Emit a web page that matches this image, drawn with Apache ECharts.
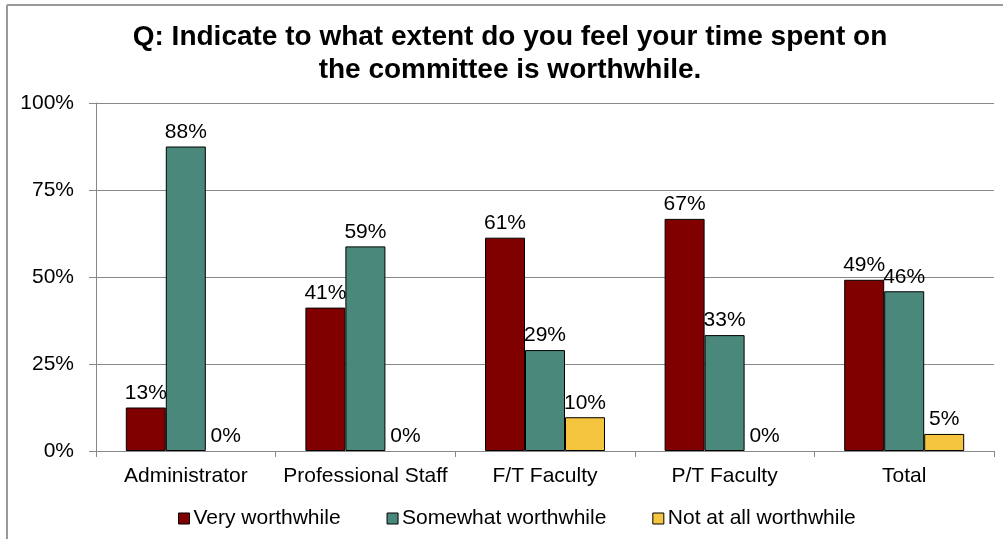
<!DOCTYPE html>
<html><head><meta charset="utf-8">
<script src="https://cdn.jsdelivr.net/npm/echarts@6/dist/echarts.min.js"></script>
<style>html,body{margin:0;padding:0;background:#fff}#c{width:1003px;height:539px}</style>
</head><body><div id="c"></div>
<script>
const categories = ['Administrator','Professional Staff','F/T Faculty','P/T Faculty','Total'];
const seriesNames = ['Very worthwhile','Somewhat worthwhile','Not at all worthwhile'];
const veryWorthwhile = [12.5, 41.2, 61.3, 66.7, 49.2];
const somewhatWorthwhile = [87.5, 58.8, 29.0, 33.3, 45.9];
const notAtAllWorthwhile = [0, 0, 9.7, 0, 4.9];
const yTicks = [0, 25, 50, 75, 100];
const colors = ['#800000', '#4a887b', '#f5c540'];
const font = 'Liberation Sans, Arial, sans-serif';

const chart = echarts.init(document.getElementById('c'), null, {renderer:'canvas'});
const mk = (name, data, i) => ({
  name, type:'bar', barWidth:40, barGap:'0%',
  data: data.map(v => v === 0 ? {value:v, itemStyle:{borderWidth:0}} : v),
  itemStyle:{color:colors[i], borderColor:'#000', borderWidth:1},
  label:{show:true, position:'top', distance:4, fontFamily:font, fontSize:21, color:'#000',
    formatter:p=>Math.round(p.value)+'%'}
});
chart.setOption({
  animation:false,
  title:{text:'Q: Indicate to what extent do you feel your time spent on\nthe committee is worthwhile.',
    left:510, top:21, textAlign:'center', padding:0,
    textStyle:{fontFamily:font, fontSize:28, fontWeight:'bold', color:'#000', lineHeight:33}},
  grid:{left:96, right:9, top:103, bottom:88, containLabel:false},
  legend:{top:508, left:178, itemWidth:11, itemHeight:11, itemGap:46, icon:'rect', padding:0,
    textStyle:{fontFamily:font, fontSize:21, color:'#000', padding:[0,0,0,-1]},
    itemStyle:{borderColor:'#000', borderWidth:1}, data:seriesNames},
  xAxis:{type:'category', data:categories,
    axisLine:{lineStyle:{color:'#888', width:1}},
    axisTick:{show:true, length:6, lineStyle:{color:'#888'}},
    axisLabel:{fontFamily:font, fontSize:21, color:'#000', margin:15, interval:0}},
  yAxis:{type:'value', min:yTicks[0], max:yTicks[yTicks.length-1], interval:25,
    axisLine:{show:true, lineStyle:{color:'#888'}},
    axisTick:{show:true, length:7, lineStyle:{color:'#888'}},
    splitLine:{lineStyle:{color:'#888', width:1}},
    axisLabel:{fontFamily:font, fontSize:21, color:'#000', margin:22, formatter:'{value}%'}},
  series:[mk(seriesNames[0], veryWorthwhile, 0), mk(seriesNames[1], somewhatWorthwhile, 1), mk(seriesNames[2], notAtAllWorthwhile, 2)],
  graphic:[
    {type:'line', shape:{x1:7, y1:5, x2:1003, y2:5}, style:{stroke:'#999', lineWidth:2}},
    {type:'line', shape:{x1:7, y1:5, x2:7, y2:539}, style:{stroke:'#999', lineWidth:2}}
  ]
});
</script></body></html>
